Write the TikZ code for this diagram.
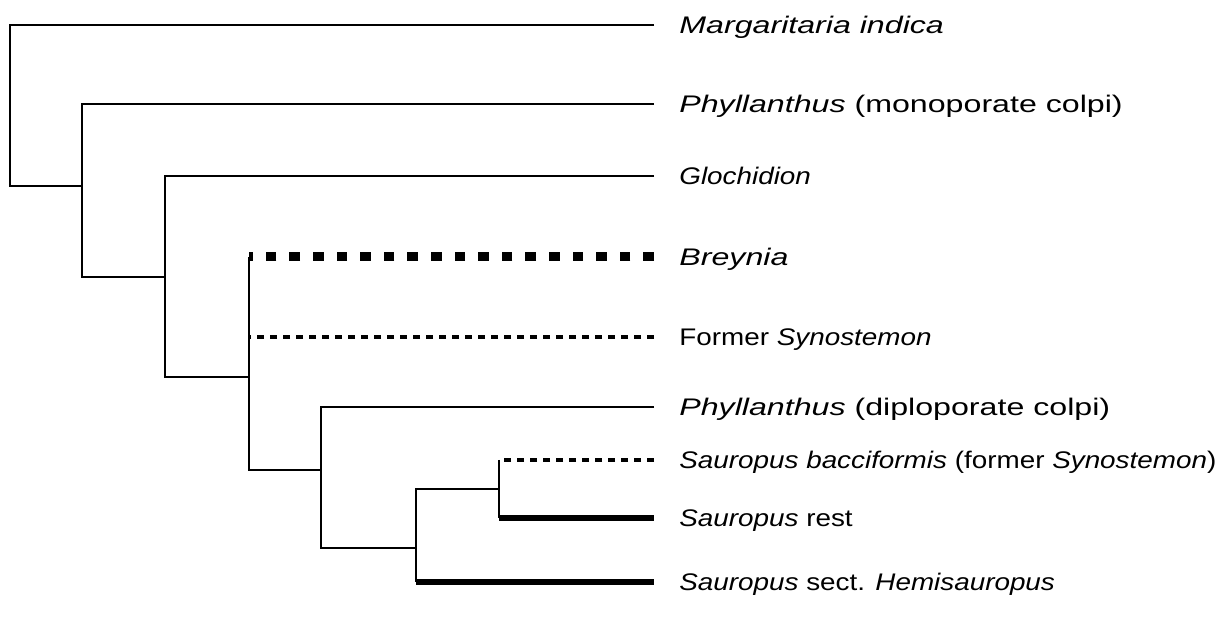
\documentclass[tikz,border=0pt]{standalone}
\usepackage{fontspec}
\setmainfont[FakeStretch=1.16]{Liberation Sans}
\newfontfamily\widesans[FakeStretch=1.34]{Liberation Sans}

\begin{document}
\begin{tikzpicture}[x=0.5pt,y=-0.5pt,font=\fontsize{12}{14}\selectfont,
  taxon/.style={anchor=west,inner xsep=12.5pt,inner ysep=0pt,text height=8.6pt,text depth=0pt},
  wide/.style={taxon,font=\fontsize{12}{14}\widesans},
  branch/.style={line width=1pt},
  heavy/.style={line width=3.3pt},
  bigdash/.style={line width=4.5pt,dash pattern=on 5.3pt off 6.5pt},
  smalldash/.style={line width=2pt,dash pattern=on 3.3pt off 3.2pt}]
\useasboundingbox (0,0) rectangle (1232,625);

\coordinate (root) at (10,186);
\coordinate (c2) at (82,186);
\coordinate (c3) at (165,277);
\coordinate (c4) at (249,377);
\coordinate (c5) at (321,470);
\coordinate (c6) at (416,548);
\coordinate (c7) at (499,489);

\node[wide]  (marg)  at (654,25)  {\textit{Margaritaria indica}};
\node[wide]  (phylm) at (654,104) {\textit{Phyllanthus} (monoporate colpi)};
\node[taxon] (gloch) at (654,176) {\textit{Glochidion}};
\node[wide]  (brey)  at (654,257) {\textit{Breynia}};
\node[taxon] (fsyn)  at (654,337) {Former \textit{Synostemon}};
\node[wide]  (phyld) at (654,407) {\textit{Phyllanthus} (diploporate colpi)};
\node[taxon] (bacc)  at (654,460) {\textit{Sauropus bacciformis} (former \textit{Synostemon})};
\node[taxon] (rest)  at (654,518) {\textit{Sauropus} rest};
\node[taxon] (hemi)  at (654,582) {\textit{Sauropus} sect. \textit{Hemisauropus}};

\draw[branch] (marg.west) -| (root) -- (c2);
\draw[branch] (phylm.west) -| (c2) |- (c3);
\draw[branch] (gloch.west) -| (c3) |- (c4);
\draw[branch] (c4 |- brey.west) -- (c4) |- (c5);
\draw[branch] (phyld.west) -| (c5) |- (c6);
\draw[branch] (c7) -| (c6) -- (c6 |- hemi.west);
\draw[branch] (c7 |- bacc.west) -- (c7 |- rest.west);

\draw[bigdash] (brey.west) -- (c4 |- brey.west);
\draw[smalldash] (fsyn.west) -- (c4 |- fsyn.west);
\draw[smalldash] (bacc.west) -- (c7 |- bacc.west);
\draw[heavy] (c7 |- rest.west) -- (rest.west);
\draw[heavy] (c6 |- hemi.west) -- (hemi.west);
\end{tikzpicture}
\end{document}
